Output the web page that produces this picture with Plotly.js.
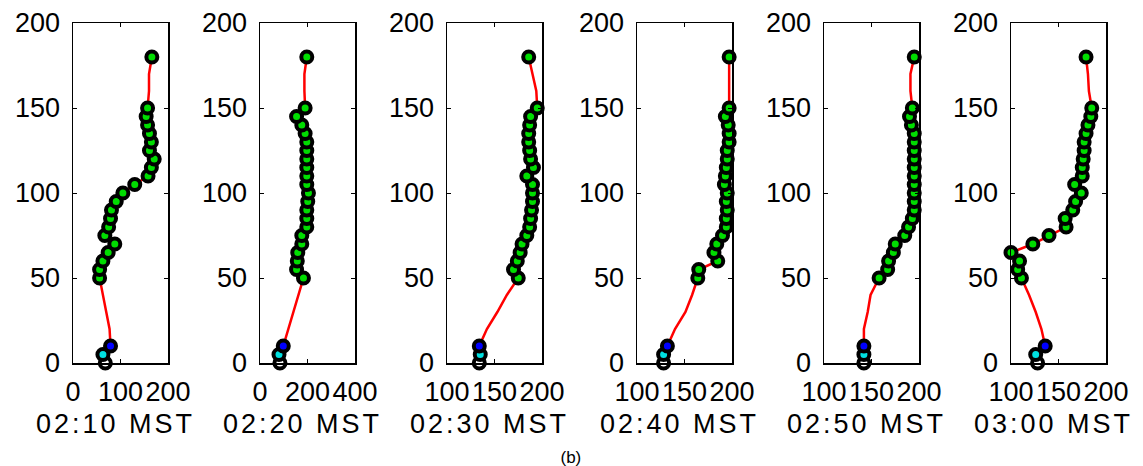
<!DOCTYPE html>
<html>
<head>
<meta charset="utf-8">
<script src="https://cdn.plot.ly/plotly-3.0.1.min.js"></script>
<style>
html,body{margin:0;padding:0;background:#fff;}
#chart{width:1143px;height:466px;}
text.annotation-text { letter-spacing: 3px; }
g.annotation[data-index="6"] text.annotation-text { letter-spacing: 0px; }
</style>
</head>
<body>
<div id="chart"></div>
<script>
// Heights (m)
const heights = [0,5,10,20,30,40,50,55,60,65,70,75,80,85,90,95,100,105,110,115,120,125,130,135,140,145,150,160,170,180];

// Series values per panel (x values)
const p0210 = [68,63,79,77,70,63,56,56,63,74,88,67,75,79,81,91,105,130,158,165,171,161,165,161,157,154,157,160,160,166];
const p0220 = [84,80,98,119,140,161,183,154,157,159,176,176,197,197,197,201,204,197,197,197,197,197,197,190,176,154,190,187,187,197];
const p0230 = [134,135,134,142,153,163,175,170,174,177,179,184,187,188,189,190,190,190,184,191,188,187,186,186,187,188,195,194,190,186];
const p0240 = [128,128,132,140,151,158,164,165,185,181,184,190,194,194,195,194,195,192,193,194,195,195,197,197,196,193,197,197,197,197];
const p0250 = [142,142,142,142,146,149,158,167,168,173,175,185,189,193,195,195,195,195,195,195,195,195,195,195,192,190,193,191,191,195];
const p0300 = [128,126,136,132,126,119,111,107,109,100,123,140,158,157,165,168,174,167,175,175,176,177,177,179,181,184,185,182,181,179];

const series = [p0210,p0220,p0230,p0240,p0250,p0300];
const panelTitles = ["02:10 MST","02:20 MST","02:30 MST","02:40 MST","02:50 MST","03:00 MST"];
const xRanges = [[0,200],[0,400],[100,200],[100,200],[100,200],[100,200]];
const xTicks = [[0,100,200],[0,200,400],[100,150,200],[100,150,200],[100,150,200],[100,150,200]];
const yTicks = [0,50,100,150,200];
const figLabel = "(b)";

const W = 1143, H = 466;
const lefts = [73,260,447,637,824,1011];
const pw = 95;
const plotTop = 23, plotBottom = 363;

const traces = [];
const layout = {
  width: W, height: H,
  margin: {l:0,r:0,t:0,b:0},
  paper_bgcolor: '#fff', plot_bgcolor: '#fff',
  showlegend: false,
  font: {family: 'Liberation Sans, Arial, sans-serif', color: '#000', size: 27},
  annotations: []
};

const tickFont = {family: 'Liberation Sans, Arial, sans-serif', size: 27, color: '#000'};

series.forEach((vals, i) => {
  const n = i + 1;
  const xa = 'x' + (n === 1 ? '' : n);
  const ya = 'y' + (n === 1 ? '' : n);
  traces.push({x: vals, y: heights, xaxis: xa, yaxis: ya, mode: 'lines', type: 'scatter',
    line: {color: '#ff0000', width: 2.5}, cliponaxis: false, hoverinfo: 'skip'});
  const gx = [], gy = [];
  heights.forEach((h, k) => {
    if (h >= 50 && h !== 160 && h !== 170) { gx.push(vals[k]); gy.push(h); }
  });
  traces.push({x: gx, y: gy, xaxis: xa, yaxis: ya, mode: 'markers', type: 'scatter', cliponaxis: false,
    marker: {symbol: 'circle', size: 11, color: '#00dd00', line: {color: '#000', width: 4}}});
  const special = [[0,'#ffffff'],[5,'#00e0e0'],[10,'#0000ff']];
  special.forEach(([h, c]) => {
    const k = heights.indexOf(h);
    traces.push({x: [vals[k]], y: [h], xaxis: xa, yaxis: ya, mode: 'markers', type: 'scatter', cliponaxis: false,
      marker: {symbol: 'circle', size: 11, color: c, line: {color: '#000', width: 4}}});
  });

  const xd = [lefts[i] / W, (lefts[i] + pw) / W];
  const yd = [1 - plotBottom / H, 1 - plotTop / H];
  layout['xaxis' + (n === 1 ? '' : n)] = {
    domain: xd, anchor: ya, range: xRanges[i], tickvals: xTicks[i], ticktext: xTicks[i].map(String),
    ticks: 'inside', ticklen: 4, tickwidth: 1, tickcolor: '#000', mirror: 'ticks',
    showline: true, linecolor: '#000', linewidth: 1.5, showgrid: false, zeroline: false,
    tickfont: tickFont, ticklabelstandoff: 4, fixedrange: true
  };
  layout['yaxis' + (n === 1 ? '' : n)] = {
    domain: yd, anchor: xa, range: [0,200], tickvals: yTicks, ticktext: yTicks.map(String),
    ticks: 'inside', ticklen: 4, tickwidth: 1, tickcolor: '#000', mirror: 'ticks',
    showline: true, linecolor: '#000', linewidth: 1.5, showgrid: false, zeroline: false,
    tickfont: tickFont, ticklabelstandoff: 6, fixedrange: true
  };
  layout.annotations.push({
    text: panelTitles[i], xref: 'paper', yref: 'paper',
    x: (lefts[i] + pw / 2 - 5) / W, y: 1 - 424 / H, xanchor: 'center', yanchor: 'middle',
    showarrow: false, font: {family: 'Liberation Sans, Arial, sans-serif', size: 27, color: '#000'}
  });
});

layout.annotations.push({
  text: figLabel, xref: 'paper', yref: 'paper', x: 571 / W, y: 1 - 457 / H,
  xanchor: 'center', yanchor: 'middle', showarrow: false,
  font: {family: 'Liberation Sans, Arial, sans-serif', size: 17, color: '#000'}
});

Plotly.newPlot('chart', traces, layout, {displayModeBar: false, staticPlot: true});
</script>
</body>
</html>
